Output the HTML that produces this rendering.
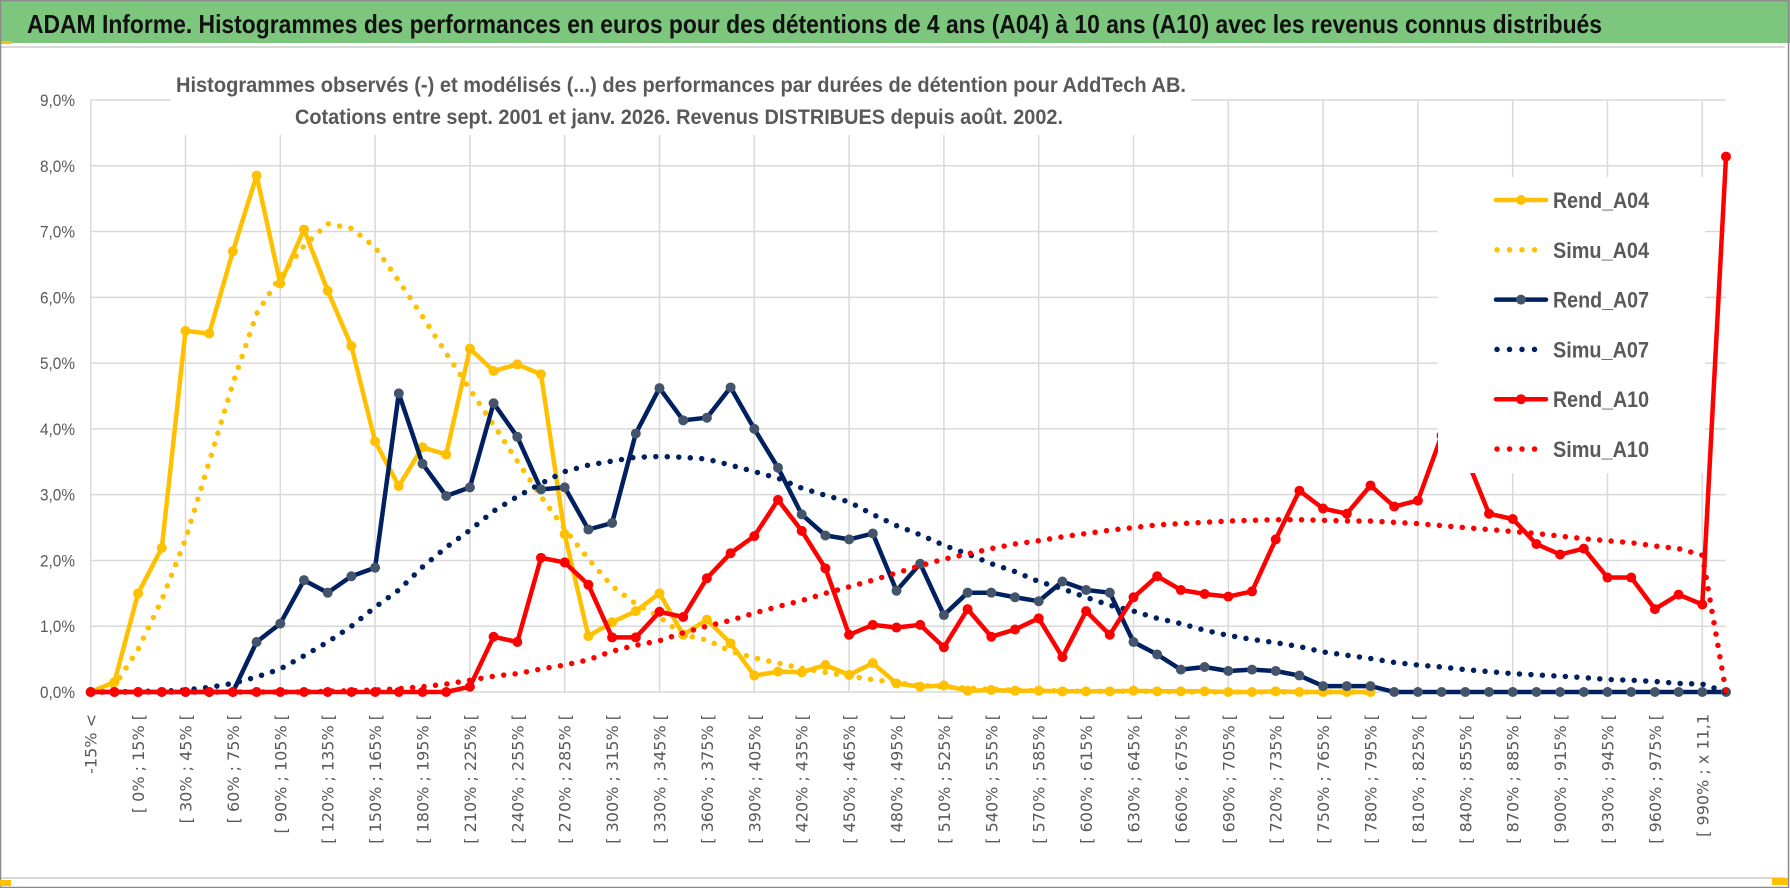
<!DOCTYPE html>
<html><head><meta charset="utf-8"><style>
html,body{margin:0;padding:0;background:#fff;}
svg{display:block;font-family:"Liberation Sans",sans-serif;}
</style></head><body>
<svg id="chart" width="1790" height="888" viewBox="0 0 1790 888" xmlns="http://www.w3.org/2000/svg">
<rect x="0" y="0" width="1790" height="888" fill="#fff"/>
<rect x="0" y="0" width="1790" height="43" fill="#7dc67e"/>
<rect x="0" y="41" width="12" height="3" fill="#ffc000"/>
<text x="27" y="33" font-size="26" font-weight="bold" fill="#111" textLength="1575" lengthAdjust="spacingAndGlyphs">ADAM Informe. Histogrammes des performances en euros pour des détentions de 4 ans (A04) à 10 ans (A10) avec les revenus connus distribués</text>
<line x1="0" y1="47" x2="1785" y2="47" stroke="#d9d9d9" stroke-width="2"/>
<line x1="0" y1="878" x2="1785" y2="878" stroke="#d9d9d9" stroke-width="2"/>
<rect x="0.5" y="0.5" width="1788" height="887" fill="none" stroke="#8a8a8a" stroke-width="1.5"/>
<rect x="0" y="880" width="11" height="6" fill="#ffc000"/>
<rect x="1772" y="878" width="16" height="7" fill="#ffc000"/>
<g id="grid"></g>
<g id="yaxis"></g>
<g id="xaxis"></g>
<rect x="171" y="58" width="1020" height="77" fill="#fff"/>
<text x="176" y="92" font-size="21" font-weight="bold" fill="#595959" textLength="1010" lengthAdjust="spacingAndGlyphs">Histogrammes observés (-) et modélisés (...) des performances par durées de détention pour AddTech AB.</text>
<text x="295" y="124" font-size="21" font-weight="bold" fill="#595959" textLength="768" lengthAdjust="spacingAndGlyphs">Cotations entre sept. 2001 et janv. 2026. Revenus DISTRIBUES depuis août. 2002.</text>
<g id="series"></g>
<g id="legend"></g>
</svg>
<script>
const yTicks = ["0,0%","1,0%","2,0%","3,0%","4,0%","5,0%","6,0%","7,0%","8,0%","9,0%"];
const xLabels = ["-15% <","[ 0% ; 15% [","[ 30% ; 45% [","[ 60% ; 75% [","[ 90% ; 105% [","[ 120% ; 135% [","[ 150% ; 165% [","[ 180% ; 195% [","[ 210% ; 225% [","[ 240% ; 255% [","[ 270% ; 285% [","[ 300% ; 315% [","[ 330% ; 345% [","[ 360% ; 375% [","[ 390% ; 405% [","[ 420% ; 435% [","[ 450% ; 465% [","[ 480% ; 495% [","[ 510% ; 525% [","[ 540% ; 555% [","[ 570% ; 585% [","[ 600% ; 615% [","[ 630% ; 645% [","[ 660% ; 675% [","[ 690% ; 705% [","[ 720% ; 735% [","[ 750% ; 765% [","[ 780% ; 795% [","[ 810% ; 825% [","[ 840% ; 855% [","[ 870% ; 885% [","[ 900% ; 915% [","[ 930% ; 945% [","[ 960% ; 975% [","[ 990% ; x 11,1"];
const nCategories = 70;
const rendA04 = [0,0.15,1.5,2.19,5.49,5.45,6.7,7.85,6.21,7.03,6.1,5.26,3.81,3.13,3.72,3.61,5.22,4.88,4.98,4.83,2.4,0.85,1.06,1.23,1.5,0.87,1.1,0.74,0.25,0.31,0.3,0.41,0.26,0.44,0.13,0.08,0.1,0.02,0.03,0.02,0.02,0.01,0.01,0.01,0.02,0.01,0.01,0.01,0,0,0.01,0,0,0,0];
const simuA04 = [0,0.09,0.65,1.4,2.32,3.5,4.69,5.75,6.32,6.78,7.12,7.05,6.76,6.25,5.71,5.15,4.6,4.06,3.51,2.97,2.48,2.02,1.61,1.34,1.14,0.87,0.79,0.62,0.52,0.44,0.36,0.3,0.24,0.19,0.14,0.1,0.08,0.06,0.04,0.03,0.02,0.02,0.01,0.01,0.01,0.01,0,0,0,0,0,0,0,0,0];
const rendA07 = [0,0,0,0,0,0,0,0.76,1.04,1.7,1.51,1.76,1.89,4.54,3.47,2.98,3.11,4.39,3.88,3.08,3.11,2.47,2.57,3.93,4.62,4.13,4.17,4.63,4.0,3.41,2.7,2.38,2.32,2.41,1.54,1.95,1.17,1.51,1.51,1.44,1.38,1.68,1.55,1.51,0.76,0.57,0.34,0.38,0.32,0.34,0.32,0.25,0.09,0.09,0.09,0,0,0,0,0,0,0,0,0,0,0,0,0,0,0];
const simuA07 = [0,0,0.01,0.01,0.03,0.07,0.13,0.23,0.35,0.55,0.76,1.0,1.29,1.55,1.9,2.2,2.46,2.75,2.97,3.17,3.35,3.45,3.51,3.57,3.58,3.57,3.54,3.45,3.35,3.25,3.1,2.99,2.89,2.7,2.53,2.39,2.23,2.1,1.95,1.83,1.68,1.57,1.44,1.32,1.23,1.12,1.04,0.94,0.86,0.8,0.75,0.69,0.61,0.56,0.51,0.45,0.41,0.38,0.34,0.31,0.28,0.26,0.24,0.22,0.19,0.18,0.16,0.13,0.12,0];
const rendA10 = [0,0,0,0,0,0,0,0,0,0,0,0,0,0,0,0,0.08,0.84,0.76,2.04,1.97,1.63,0.83,0.83,1.22,1.14,1.73,2.11,2.37,2.92,2.45,1.88,0.87,1.02,0.98,1.02,0.68,1.26,0.84,0.95,1.12,0.53,1.23,0.87,1.44,1.76,1.55,1.49,1.45,1.53,2.32,3.06,2.79,2.71,3.14,2.82,2.91,3.9,3.6,2.71,2.63,2.25,2.09,2.18,1.74,1.74,1.26,1.48,1.33,8.14];
const simuA10 = [0,0,0,0,0,0,0,0,0,0,0.01,0.02,0.03,0.05,0.08,0.12,0.18,0.24,0.28,0.35,0.41,0.49,0.62,0.71,0.78,0.9,1.0,1.09,1.2,1.3,1.39,1.5,1.6,1.7,1.81,1.92,2.02,2.1,2.18,2.25,2.3,2.36,2.41,2.46,2.5,2.54,2.56,2.58,2.6,2.61,2.62,2.62,2.61,2.6,2.6,2.58,2.56,2.53,2.5,2.47,2.44,2.41,2.37,2.33,2.3,2.27,2.22,2.18,2.08,0];
const seriesNames = ["Rend_A04","Simu_A04","Rend_A07","Simu_A07","Rend_A10","Simu_A10"];

const NS = "http://www.w3.org/2000/svg";
const X0 = 90.7, X1 = 1726, Y0 = 692, Y9 = 100, YMAX = 9;
function xPos(i){ return X0 + i * (X1 - X0) / (nCategories - 1); }
function yPos(v){ return Y0 - v * (Y0 - Y9) / YMAX; }
function mk(tag, attrs, parent){ const e = document.createElementNS(NS, tag); for (const k in attrs) e.setAttribute(k, attrs[k]); parent.appendChild(e); return e; }

const grid = document.getElementById('grid');
yTicks.forEach((t, k) => {
  const l = mk('line', {x1:X0, x2:X1, y1:yPos(k), y2:yPos(k), stroke:'#d9d9d9', 'stroke-width':1.5}, grid);
  
  
});
for (let i = 0; i < nCategories; i += 4) {
  const l = mk('line', {x1:xPos(i), x2:xPos(i), y1:Y9, y2:Y0, stroke:'#d9d9d9', 'stroke-width':1.5}, grid);
  
  
}
const yaxis = document.getElementById('yaxis');
yTicks.forEach((t, k) => {
  const tx = mk('text', {x:75, y:yPos(k)+6, 'text-anchor':'end', 'font-size':17, fill:'#595959', textLength:35, lengthAdjust:'spacingAndGlyphs'}, yaxis);
  tx.textContent = t;
  
  
});
const xaxis = document.getElementById('xaxis');
xLabels.forEach((t, k) => {
  const px = xPos(k*2) + 6, py = 714;
  const tx = mk('text', {x:px, y:py, 'text-anchor':'end', 'font-size':16, 'font-family':'"DejaVu Sans", sans-serif', fill:'#595959', transform:'rotate(-90 '+px+' '+py+')'}, xaxis);
  tx.textContent = t;
  
  
});

const series = document.getElementById('series');
function drawSeries(values, color, dotted, markerColor, name){
  const g = mk('g', {}, series);
  
  
  const pts = values.map((v, i) => xPos(i).toFixed(1) + ',' + yPos(v).toFixed(1)).join(' ');
  const attrs = {points:pts, fill:'none', stroke:color, 'stroke-linejoin':'round', 'stroke-linecap':'round'};
  if (dotted) { attrs['stroke-width'] = 5.5; attrs['stroke-dasharray'] = '0 11.5'; }
  else { attrs['stroke-width'] = 4.5; }
  const pl = mk('polyline', attrs, g);
  
  
  if (!dotted) {
    values.forEach((v, i) => {
      const c = mk('circle', {cx:xPos(i), cy:yPos(v), r:5, fill:markerColor}, g);
      
      
    });
  }
}
drawSeries(rendA04, '#ffc000', false, '#ffc000', 'series-rend-a04');
drawSeries(simuA04, '#ffc000', true, null, 'series-simu-a04');
drawSeries(rendA07, '#002060', false, '#44546a', 'series-rend-a07');
drawSeries(simuA07, '#002060', true, null, 'series-simu-a07');
drawSeries(rendA10, '#ff0000', false, '#ff0000', 'series-rend-a10');
drawSeries(simuA10, '#ff0000', true, null, 'series-simu-a10');

const legend = document.getElementById('legend');
const lb = mk('rect', {x:1438, y:177, width:267, height:296, fill:'#fff'}, legend);


const legColors = ['#ffc000','#ffc000','#002060','#002060','#ff0000','#ff0000'];
const legMarker = ['#ffc000',null,'#44546a',null,'#ff0000',null];
seriesNames.forEach((n, k) => {
  const y = 200 + k * 49.8;
  const g = mk('g', {}, legend);
  
  
  if (k % 2 === 0) {
    mk('line', {x1:1496, x2:1546, y1:y, y2:y, stroke:legColors[k], 'stroke-width':4.5, 'stroke-linecap':'round'}, g);
    mk('circle', {cx:1521, cy:y, r:5, fill:legMarker[k]}, g);
  } else {
    mk('line', {x1:1497, x2:1546, y1:y, y2:y, stroke:legColors[k], 'stroke-width':5.5, 'stroke-linecap':'round', 'stroke-dasharray':'0 12.5'}, g);
  }
  const t = mk('text', {x:1553, y:y+8, 'font-size':22, 'font-weight':'bold', fill:'#595959', textLength:96, lengthAdjust:'spacingAndGlyphs'}, g);
  t.textContent = n;
});
</script>
</body></html>
